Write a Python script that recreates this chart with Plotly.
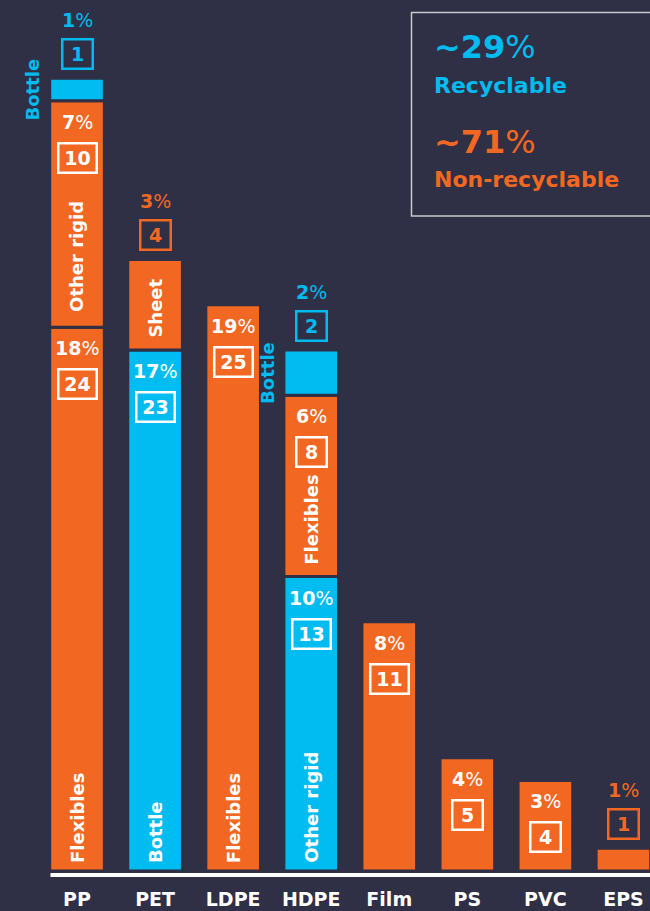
import plotly.graph_objects as go

# Plastic packaging by polymer and format (tonnage units, share of total)
categories = ['PP', 'PET', 'LDPE', 'HDPE', 'Film', 'PS', 'PVC', 'EPS']

seg_category = ['PP', 'PP', 'PP', 'PET', 'PET', 'LDPE', 'HDPE', 'HDPE', 'HDPE', 'Film', 'PS', 'PVC', 'EPS']
seg_name = ['Flexibles', 'Other rigid', 'Bottle', 'Bottle', 'Sheet', 'Flexibles',
            'Other rigid', 'Flexibles', 'Bottle', '', '', '', '']
seg_value = [24, 10, 1, 23, 4, 25, 13, 8, 2, 11, 5, 4, 1]
seg_pct = [18, 7, 1, 17, 3, 19, 10, 6, 2, 8, 4, 3, 1]
seg_recyclable = [False, False, True, True, False, False, True, False, True, False, False, False, False]

recyclable_share = 29
non_recyclable_share = 71

BG = '#2f2f45'
ORANGE = '#f26822'
CYAN = '#00bcf0'
WHITE = '#ffffff'
FONT = 'DejaVu Sans'

# stack segments on top of each other per category
seg_base = []
running = {}
for cat, val in zip(seg_category, seg_value):
    seg_base.append(running.get(cat, 0))
    running[cat] = running.get(cat, 0) + val

colors = [CYAN if r else ORANGE for r in seg_recyclable]

fig = go.Figure(go.Bar(
    x=seg_category,
    y=seg_value,
    base=seg_base,
    width=0.7,
    marker=dict(color=colors, line=dict(color=BG, width=3)),
    hoverinfo='skip',
))

annotations = []
for cat, name, val, pct, base, col in zip(seg_category, seg_name, seg_value, seg_pct, seg_base, colors):
    top = base + val
    outside = val < 3 or (name != '' and val < 5)
    txt_col = col if outside else WHITE
    s_pct, s_box = (58, 24) if outside else (-21, -57)
    annotations.append(dict(
        x=cat, y=top, yshift=s_pct, text=f'<b>{pct}</b>%', showarrow=False,
        font=dict(family=FONT, size=19, color=txt_col), yanchor='middle'))
    annotations.append(dict(
        x=cat, y=top, yshift=s_box, text=f'<b>{val}</b>', showarrow=False,
        font=dict(family=FONT, size=19, color=txt_col), yanchor='middle',
        bordercolor=txt_col, borderwidth=2.5, borderpad=1,
        width=34 if val >= 10 else 26, height=25))
    if not name:
        continue
    if val < 3:
        # small segment: name sits to the left of the bar
        annotations.append(dict(
            x=cat, y=base + val / 2, xshift=-44, text=f'<b>{name}</b>', showarrow=False,
            textangle=-90, font=dict(family=FONT, size=18, color=col),
            xanchor='center', yanchor='middle'))
    else:
        pad = 6 if base == 0 else (13 if name == 'Other rigid' else 10)
        annotations.append(dict(
            x=cat, y=base, yshift=pad, text=f'<b>{name}</b>', showarrow=False,
            textangle=-90, font=dict(family=FONT, size=18, color=WHITE),
            xanchor='center', yanchor='bottom'))

# legend box text (paper coords, plot area is 612 x 851 px)
def px_x(p):
    return (p - 38) / 612


def px_y(p):
    return (871 - p) / 851


annotations += [
    dict(xref='paper', yref='paper', x=px_x(432), y=px_y(47), xanchor='left', yanchor='middle',
         text=f'<b>~{recyclable_share}</b>%', showarrow=False,
         font=dict(family=FONT, size=32, color=CYAN)),
    dict(xref='paper', yref='paper', x=px_x(432), y=px_y(86), xanchor='left', yanchor='middle',
         text='<b>Recyclable</b>', showarrow=False,
         font=dict(family=FONT, size=22, color=CYAN)),
    dict(xref='paper', yref='paper', x=px_x(432), y=px_y(142), xanchor='left', yanchor='middle',
         text=f'<b>~{non_recyclable_share}</b>%', showarrow=False,
         font=dict(family=FONT, size=32, color=ORANGE)),
    dict(xref='paper', yref='paper', x=px_x(432), y=px_y(179), xanchor='left', yanchor='middle',
         text='<b>Non-recyclable</b>', showarrow=False,
         font=dict(family=FONT, size=22, color=ORANGE)),
]

shapes = [
    dict(type='rect', xref='paper', yref='paper',
         x0=px_x(411.5), x1=px_x(660), y0=px_y(216), y1=px_y(12.5),
         line=dict(color='#c9c9d2', width=1.5), fillcolor='rgba(0,0,0,0)'),
    dict(type='line', xref='x', yref='paper', x0=-0.34, x1=8, y0=px_y(875), y1=px_y(875),
         line=dict(color=WHITE, width=4)),
]

fig.update_layout(
    width=650, height=911,
    margin=dict(l=38, r=0, t=20, b=40),
    paper_bgcolor=BG, plot_bgcolor=BG,
    barmode='overlay',
    showlegend=False,
    annotations=annotations,
    shapes=shapes,
    xaxis=dict(
        categoryorder='array', categoryarray=categories,
        range=[-0.5, 7.34], showgrid=False, zeroline=False, showline=False,
        ticks='', ticklabelstandoff=15,
        tickfont=dict(family=FONT, size=19, color=WHITE, weight='bold'),
    ),
    yaxis=dict(range=[0, 37.57], visible=False, showgrid=False, zeroline=False),
)

# drop the default page margin so the figure fills the window
fig.write_html('out.html', config={'displayModeBar': False},
               post_script="document.body.style.margin='0';")
